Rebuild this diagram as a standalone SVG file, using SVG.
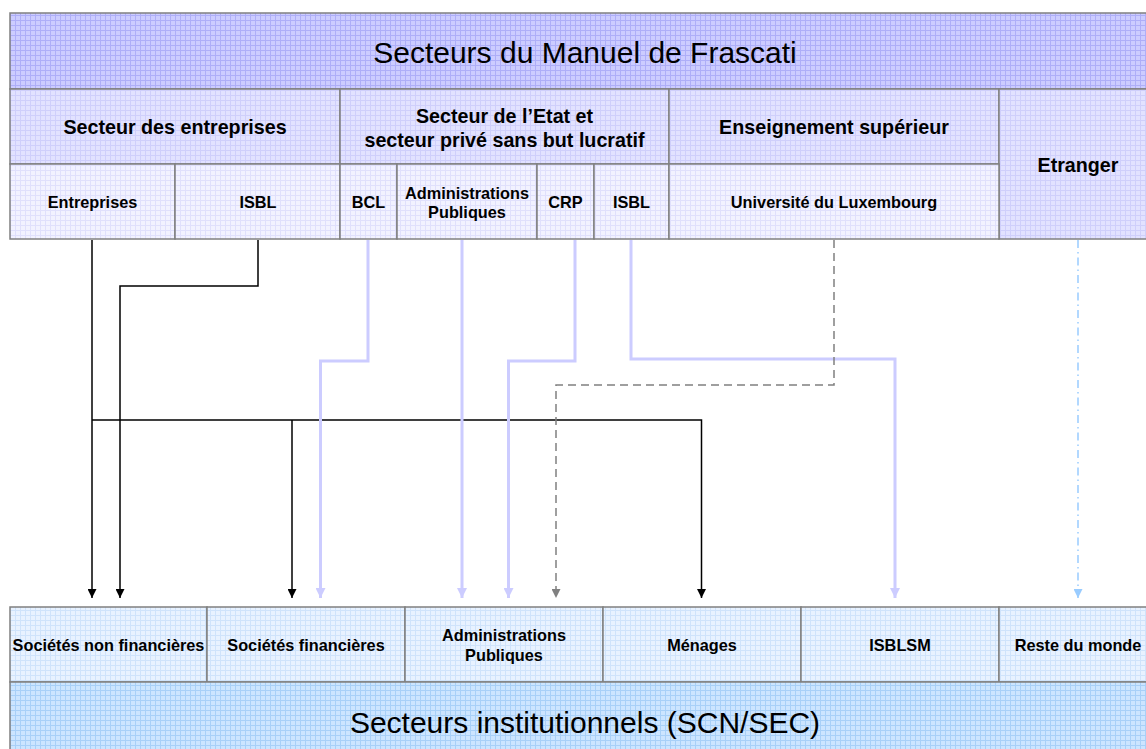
<svg xmlns="http://www.w3.org/2000/svg" width="1146" height="749" viewBox="0 0 1146 749">
<defs>
<pattern id="g1" width="5" height="5" patternUnits="userSpaceOnUse"><rect width="5" height="5" fill="#ccccff"/><path d="M0 0.5H5M0.5 0V5" stroke="#aeaef8" stroke-width="1"/></pattern>
<pattern id="g2" width="5" height="5" patternUnits="userSpaceOnUse"><rect width="5" height="5" fill="#e2e2ff"/><path d="M0 0.5H5M0.5 0V5" stroke="#cfcffb" stroke-width="1"/></pattern>
<pattern id="g3" width="5" height="5" patternUnits="userSpaceOnUse"><rect width="5" height="5" fill="#f2f2ff"/><path d="M0 0.5H5M0.5 0V5" stroke="#e0e0fc" stroke-width="1"/></pattern>
<pattern id="g4" width="5" height="5" patternUnits="userSpaceOnUse"><rect width="5" height="5" fill="#e8f2ff"/><path d="M0 0.5H5M0.5 0V5" stroke="#cfe3fb" stroke-width="1"/></pattern>
<pattern id="g5" width="5" height="5" patternUnits="userSpaceOnUse"><rect width="5" height="5" fill="#cce5ff"/><path d="M0 0.5H5M0.5 0V5" stroke="#a8d0f8" stroke-width="1"/></pattern>
<marker id="aB" viewBox="0 0 10 10" refX="10" refY="5" markerWidth="9" markerHeight="9" markerUnits="userSpaceOnUse" orient="auto"><path d="M0 0L10 5L0 10Z" fill="#000"/></marker>
<marker id="aL" viewBox="0 0 10 10" refX="10" refY="5" markerWidth="10" markerHeight="10" markerUnits="userSpaceOnUse" orient="auto"><path d="M0 0L10 5L0 10Z" fill="#ccccff"/></marker>
<marker id="aG" viewBox="0 0 10 10" refX="10" refY="5" markerWidth="9" markerHeight="9" markerUnits="userSpaceOnUse" orient="auto"><path d="M0 0L10 5L0 10Z" fill="#808080"/></marker>
<marker id="aC" viewBox="0 0 10 10" refX="10" refY="5" markerWidth="9" markerHeight="9" markerUnits="userSpaceOnUse" orient="auto"><path d="M0 0L10 5L0 10Z" fill="#99ccff"/></marker>
</defs>
<style>
.b{stroke:#808080;stroke-width:1.5}
.t{font-family:"Liberation Sans",Arial,sans-serif;fill:#000;text-anchor:middle}
.big{font-size:30px}
.h2{font-size:19.7px;font-weight:bold}
.h3{font-size:16.3px;font-weight:bold}
.k{fill:none;stroke:#000;stroke-width:1.5}
.l{fill:none;stroke:#ccccff;stroke-width:3}
.d{fill:none;stroke:#808080;stroke-width:1.5;stroke-dasharray:8,5}
.c{fill:none;stroke:#99ccff;stroke-width:1.5;stroke-dasharray:8,4,1.5,4}
</style>
<rect width="1146" height="749" fill="#fff"/>
<g id="top-title"><rect x="10" y="13" width="1150" height="76" fill="url(#g1)" class="b"/><text class="t big" x="585" y="63">Secteurs du Manuel de Frascati</text></g>
<g id="secteur-entreprises"><rect x="10" y="89" width="330" height="75" fill="url(#g2)" class="b"/><text class="t h2" x="175" y="134">Secteur des entreprises</text></g>
<g id="secteur-etat"><rect x="340" y="89" width="329" height="75" fill="url(#g2)" class="b"/><text class="t h2" x="504.5" y="123">Secteur de l’Etat et</text><text class="t h2" x="504.5" y="147">secteur privé sans but lucratif</text></g>
<g id="enseignement"><rect x="669" y="89" width="330" height="75" fill="url(#g2)" class="b"/><text class="t h2" x="834" y="134">Enseignement supérieur</text></g>
<g id="etranger"><rect x="999" y="89" width="160" height="150" fill="url(#g2)" class="b"/><text class="t h2" x="1078" y="172">Etranger</text></g>
<g id="entreprises"><rect x="10" y="164" width="165" height="75" fill="url(#g3)" class="b"/><text class="t h3" x="92.5" y="208">Entreprises</text></g>
<g id="isbl1"><rect x="175" y="164" width="165" height="75" fill="url(#g3)" class="b"/><text class="t h3" x="258" y="208">ISBL</text></g>
<g id="bcl"><rect x="340" y="164" width="57" height="75" fill="url(#g3)" class="b"/><text class="t h3" x="368.5" y="208">BCL</text></g>
<g id="admin1"><rect x="397" y="164" width="140" height="75" fill="url(#g3)" class="b"/><text class="t h3" x="467" y="198.5">Administrations</text><text class="t h3" x="467" y="218">Publiques</text></g>
<g id="crp"><rect x="537" y="164" width="57" height="75" fill="url(#g3)" class="b"/><text class="t h3" x="565.5" y="208">CRP</text></g>
<g id="isbl2"><rect x="594" y="164" width="75" height="75" fill="url(#g3)" class="b"/><text class="t h3" x="631.5" y="208">ISBL</text></g>
<g id="universite"><rect x="669" y="164" width="330" height="75" fill="url(#g3)" class="b"/><text class="t h3" x="834" y="208">Université du Luxembourg</text></g>
<g id="snf"><rect x="10" y="607" width="197" height="75" fill="url(#g4)" class="b"/><text class="t h3" x="108.5" y="651">Sociétés non financières</text></g>
<g id="sf"><rect x="207" y="607" width="198" height="75" fill="url(#g4)" class="b"/><text class="t h3" x="306" y="651">Sociétés financières</text></g>
<g id="admin2"><rect x="405" y="607" width="198" height="75" fill="url(#g4)" class="b"/><text class="t h3" x="504" y="641">Administrations</text><text class="t h3" x="504" y="661">Publiques</text></g>
<g id="menages"><rect x="603" y="607" width="198" height="75" fill="url(#g4)" class="b"/><text class="t h3" x="702" y="651">Ménages</text></g>
<g id="isblsm"><rect x="801" y="607" width="198" height="75" fill="url(#g4)" class="b"/><text class="t h3" x="900" y="651">ISBLSM</text></g>
<g id="rdm"><rect x="999" y="607" width="160" height="75" fill="url(#g4)" class="b"/><text class="t h3" x="1078" y="651">Reste du monde</text></g>
<g id="bottom-title"><rect x="10" y="682" width="1150" height="80" fill="url(#g5)" class="b"/><text class="t big" x="585" y="733">Secteurs institutionnels (SCN/SEC)</text></g>
<g id="connectors">
<path class="k" d="M92 240V598" marker-end="url(#aB)"/>
<path class="k" d="M92 420H701.5V598" marker-end="url(#aB)"/>
<path class="k" d="M292 420V598" marker-end="url(#aB)"/>
<path class="k" d="M258 240V286H120V598" marker-end="url(#aB)"/>
<path class="l" d="M368 240V361H320.5V598" marker-end="url(#aL)"/>
<path class="l" d="M462 240V598" marker-end="url(#aL)"/>
<path class="l" d="M575 240V361H508.5V598" marker-end="url(#aL)"/>
<path class="l" d="M631 240V359H895V598" marker-end="url(#aL)"/>
<path class="d" d="M834 240V385H556V598" marker-end="url(#aG)"/>
<path class="c" d="M1078 240V598" marker-end="url(#aC)"/>
</g>
</svg>
